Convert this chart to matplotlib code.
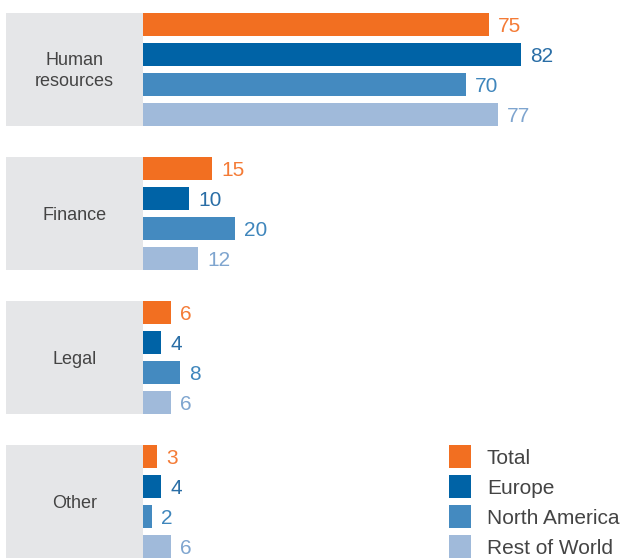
import matplotlib.pyplot as plt
from matplotlib.patches import Rectangle

plt.rcParams['font.family'] = ['Liberation Sans', 'DejaVu Sans']

categories = ['Human\nresources', 'Finance', 'Legal', 'Other']
series = ['Total', 'Europe', 'North America', 'Rest of World']
total = [75, 15, 6, 3]
europe = [82, 10, 4, 4]
north_america = [70, 20, 8, 2]
rest_of_world = [77, 12, 6, 6]

bar_colors = ['#f26f21', '#0063a6', '#448ac0', '#a0bada']
text_colors = ['#f47b36', '#2a6ea6', '#3f86bc', '#7fa5cf']

GROUP_STEP = 4.8
BAR_H = 0.77


def plot():
    fig = plt.figure(figsize=(6.23, 5.58), dpi=100)
    ax = fig.add_axes([0, 0, 1, 1])
    ax.set_xlim(-31.0, 104.1)
    ax.set_ylim(17.782, -0.818)
    ax.axis('off')

    values = [total, europe, north_america, rest_of_world]
    for i, cat in enumerate(categories):
        base = i * GROUP_STEP
        # grey label panel behind each group
        ax.add_patch(Rectangle((-29.6, base - BAR_H / 2), 29.6, 3 + BAR_H,
                               facecolor='#e5e6e8', edgecolor='none'))
        ax.text(-14.8, base + 1.55, cat, ha='center', va='center',
                fontsize=13, color='#444444', linespacing=1.25)
        for j, vals in enumerate(values):
            y = base + j
            ax.barh(y, vals[i], height=BAR_H, color=bar_colors[j], left=0)
            ax.text(vals[i] + 2.0, y + 0.05, str(vals[i]), ha='left',
                    va='center', fontsize=15, color=text_colors[j])

    # legend beside the last group
    last = (len(categories) - 1) * GROUP_STEP
    for j, name in enumerate(series):
        ax.add_patch(Rectangle((66.3, last + j - BAR_H / 2), 4.8, BAR_H,
                               facecolor=bar_colors[j], edgecolor='none'))
        ax.text(74.6, last + j + 0.05, name, ha='left', va='center',
                fontsize=15, color='#444444')

    fig.savefig('out.png', dpi=100)


if __name__ == '__main__':
    plot()
